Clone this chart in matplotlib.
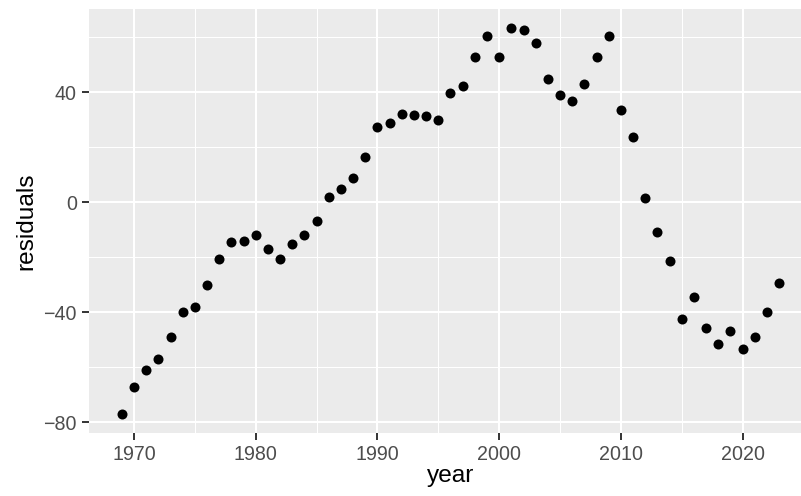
import matplotlib.pyplot as plt
import numpy as np

plt.rcParams['font.family'] = ['Liberation Sans', 'DejaVu Sans']

# residuals by year
years = np.arange(1969, 2024)
residuals = [
    -77, -67, -61, -57, -49, -40, -38, -30, -20.7, -14.5,
    -14.2, -12, -17, -20.7, -15.3, -12, -6.9, 1.8, 5, 8.7,
    16.4, 27.3, 28.7, 32, 31.6, 31.3, 29.8, 39.6, 42.2, 52.7,
    60.4, 52.7, 63.3, 62.5, 57.8, 45, 38.9, 37, 43, 52.7,
    60.4, 33.5, 23.6, 1.5, -10.9, -21.5, -42.5, -34.5, -45.8, -51.6,
    -46.9, -53.5, -49, -40, -29.5,
]
x_ticks = [1970, 1980, 1990, 2000, 2010, 2020]
y_ticks = [-80, -40, 0, 40]

W, H = 801, 496
fig = plt.figure(figsize=(W / 100, H / 100), dpi=100)
# panel runs a little past the right edge, as in the (cropped) reference
ax = fig.add_axes([89 / W, (H - 433.3) / H, 723 / W, 424.3 / H])
ax.set_facecolor('#EBEBEB')

# ggplot-style grid: minor lines halfway between majors
ax.set_xticks(x_ticks)
ax.set_yticks(y_ticks)
ax.set_xticks([1965, 1975, 1985, 1995, 2005, 2015, 2025], minor=True)
ax.set_yticks([-60, -20, 20, 60], minor=True)
ax.grid(which='major', color='white', linewidth=1.5)
ax.grid(which='minor', color='white', linewidth=0.75)
ax.set_axisbelow(True)

ax.scatter(years, residuals, s=52, color='black', linewidths=0, zorder=3)

yr = max(residuals) - min(residuals)
ax.set_ylim(min(residuals) - 0.05 * yr, max(residuals) + 0.05 * yr)
xr = years[-1] - years[0]
ax.set_xlim(years[0] - 0.05 * xr, years[-1] + 0.05 * xr)

for s in ax.spines.values():
    s.set_visible(False)
ax.tick_params(which='major', length=4.8, width=1.4, color='#333333',
               labelsize=14.1, labelcolor='#4D4D4D', pad=3.9)
ax.tick_params(which='minor', length=0)
ax.set_yticklabels(['\u221280', '\u221240', '0', '40'])

ax.set_xlabel('year', fontsize=17.6)
ax.set_ylabel('residuals', fontsize=17.6)
ax.xaxis.set_label_coords(450.5 / W, (H - 465.4) / H, transform=fig.transFigure)
ax.yaxis.set_label_coords(37 / W, (H - 221.2) / H, transform=fig.transFigure)

fig.savefig('out.png', dpi=100)
